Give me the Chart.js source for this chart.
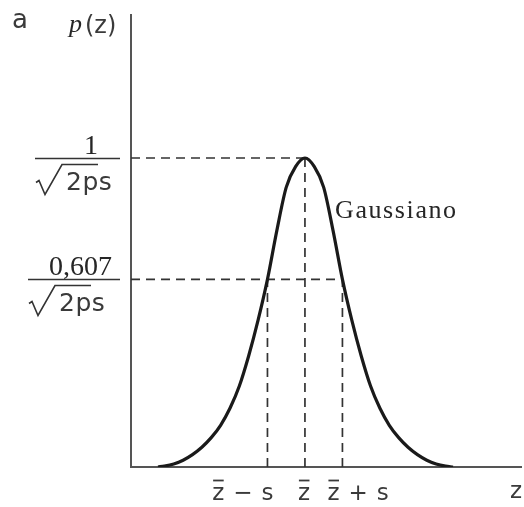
<!DOCTYPE html>
<html>
<head>
<meta charset="utf-8">
<script src="https://cdn.jsdelivr.net/npm/chart.js@4.4.1/dist/chart.umd.min.js"></script>
<style>
  html, body { margin: 0; padding: 0; background: #ffffff; }
  #wrap { width: 524px; height: 507px; position: relative; }
</style>
</head>
<body>
<div id="wrap"><canvas id="chart" width="524" height="507"></canvas></div>
<script>
// Density curve: z in units of s around the mean, p relative to the peak value 1/sqrt(2ps)
const zSigma = [-3.92, -3.75, -3.5, -3.25, -3, -2.75, -2.5, -2.25, -2, -1.75, -1.5, -1.25, -1, -0.75, -0.5, -0.25, 0,
                0.25, 0.5, 0.75, 1, 1.25, 1.5, 1.75, 2, 2.25, 2.5, 2.75, 3, 3.25, 3.5, 3.75, 3.95];
const pRel   = [0, 0.003, 0.010, 0.022, 0.040, 0.064, 0.095, 0.135, 0.19, 0.262, 0.36, 0.475, 0.607, 0.765, 0.905, 0.972, 1,
                0.972, 0.905, 0.765, 0.607, 0.475, 0.36, 0.262, 0.19, 0.135, 0.095, 0.064, 0.040, 0.022, 0.010, 0.003, 0];

// Reference levels on the p axis and marks on the z axis
const peakLevel = 1;
const sigmaLevel = 0.607;
const yTickValues = [peakLevel, sigmaLevel];
const yTickNumerators = ["1", "0,607"];
const yTickDenominator = "2ps";
const xTickValues = [-1, 0, 1];
const xTickLabels = ["z̄ − s", "z̄", "z̄ + s"];
const curveName = "Gaussiano";
const yAxisTitle = "p(z)";
const xAxisTitle = "z";
const panelLetter = "a";

// Axis ranges
const zMin = -4.64, zMax = 5.79;
const pMin = 0, pMax = 1.466;

const curvePoints = zSigma.map((z, i) => ({ x: z, y: pRel[i] }));

const dashStyle = {
  borderColor: '#333333',
  borderWidth: 1.7,
  borderDash: [9, 6],
  pointRadius: 0,
  fill: false,
  tension: 0
};

const guideSets = [
  [{ x: zMin, y: peakLevel }, { x: 0, y: peakLevel }],
  [{ x: zMin, y: sigmaLevel }, { x: 1, y: sigmaLevel }],
  [{ x: -1, y: 0 }, { x: -1, y: sigmaLevel }],
  [{ x: 0, y: 0 }, { x: 0, y: peakLevel }],
  [{ x: 1, y: 0 }, { x: 1, y: sigmaLevel }]
];

const SANS = '"DejaVu Sans", "Open Sans", sans-serif';
const SERIF = '"Liberation Serif", "DejaVu Serif", serif';

function drawSpaced(ctx, text, x, y, spacing) {
  let cx = x;
  for (const ch of text) {
    ctx.fillText(ch, cx, y);
    cx += ctx.measureText(ch).width + spacing;
  }
  return cx - spacing;
}

// Axis lines
const axesPlugin = {
  id: 'axesLines',
  beforeDatasetsDraw(chart) {
    const { ctx, chartArea: a } = chart;
    ctx.save();
    ctx.strokeStyle = '#555555';
    ctx.lineWidth = 2;
    ctx.beginPath();
    ctx.moveTo(a.left, a.top);
    ctx.lineTo(a.left, a.bottom);
    ctx.lineTo(a.right, a.bottom);
    ctx.stroke();
    ctx.restore();
  }
};

// Text annotations: axis titles, fraction tick labels, z tick labels, curve name
const labelPlugin = {
  id: 'labels',
  afterDraw(chart) {
    const { ctx, chartArea: a } = chart;
    const xs = chart.scales.x, ys = chart.scales.y;
    ctx.save();
    ctx.textBaseline = 'alphabetic';
    ctx.textAlign = 'left';

    // panel letter and p axis title
    ctx.fillStyle = '#3a3a3a';
    ctx.font = '26px ' + SANS;
    ctx.fillText(panelLetter, 12, 28);
    ctx.fillStyle = '#262626';
    ctx.font = 'italic 26px ' + SERIF;
    ctx.fillText(yAxisTitle.charAt(0), 69, 32);
    ctx.fillStyle = '#3a3a3a';
    ctx.font = '24px ' + SANS;
    ctx.fillText(yAxisTitle.slice(1), 85, 33);

    // fraction labels on the p axis
    const numX = [84, 49];
    const barL = [35, 28];
    const rootX = [36, 29];
    yTickValues.forEach((v, i) => {
      const py = Math.round(ys.getPixelForValue(v)) + 0.5;
      ctx.fillStyle = '#262626';
      ctx.font = '28px ' + SERIF;
      ctx.fillText(yTickNumerators[i], numX[i], py - 5);
      ctx.strokeStyle = '#333333';
      ctx.lineWidth = 1.7;
      ctx.beginPath();
      ctx.moveTo(barL[i], py);
      ctx.lineTo(a.left - 11, py);
      ctx.stroke();
      // radical sign
      const rx = rootX[i];
      ctx.lineWidth = 1.6;
      ctx.beginPath();
      ctx.moveTo(rx, py + 24);
      ctx.lineTo(rx + 3, py + 22);
      ctx.lineTo(rx + 9, py + 36);
      ctx.lineTo(rx + 26, py + 6);
      ctx.lineTo(rx + 62, py + 6);
      ctx.stroke();
      ctx.fillStyle = '#3a3a3a';
      ctx.font = '25px ' + SANS;
      drawSpaced(ctx, yTickDenominator, rx + 30, py + 31, 0.5);
    });

    // curve name
    ctx.fillStyle = '#262626';
    ctx.font = '26px ' + SERIF;
    drawSpaced(ctx, curveName, 335, 218, 1.6);

    // z tick labels
    ctx.fillStyle = '#3a3a3a';
    ctx.font = '23px ' + SANS;
    const baseY = 500;
    const gap = 9;
    function pieceWidth(p) { return ctx.measureText(p).width; }
    xTickValues.forEach((v, i) => {
      const px = xs.getPixelForValue(v);
      const pieces = xTickLabels[i].split(' ').map(p => p.replace('\u0304', ''));
      const widths = pieces.map(pieceWidth);
      const total = widths.reduce((s, w) => s + w, 0) + gap * (pieces.length - 1);
      let x;
      if (v < 0) x = px + 6 - total;
      else if (v === 0) x = px - widths[0] / 2 - 1;
      else x = px - 15;
      pieces.forEach((p, k) => {
        ctx.fillText(p, x, baseY);
        if (p === 'z') {
          ctx.strokeStyle = '#3a3a3a';
          ctx.lineWidth = 1.8;
          ctx.beginPath();
          ctx.moveTo(x + 1, 480.5);
          ctx.lineTo(x + widths[k] - 0.5, 480.5);
          ctx.stroke();
        }
        x += widths[k] + gap;
      });
    });

    // z axis title
    ctx.fillText(xAxisTitle, 510, 498);
    ctx.restore();
  }
};

new Chart(document.getElementById('chart'), {
  type: 'line',
  data: {
    datasets: [
      {
        label: curveName,
        data: curvePoints,
        borderColor: '#1a1a1a',
        borderWidth: 3.2,
        pointRadius: 0,
        fill: false,
        cubicInterpolationMode: 'monotone'
      },
      ...guideSets.map(pts => Object.assign({ data: pts }, dashStyle))
    ]
  },
  options: {
    responsive: false,
    animation: false,
    devicePixelRatio: 1,
    layout: { padding: { left: 131, top: 14, right: 2, bottom: 40 } },
    plugins: { legend: { display: false }, tooltip: { enabled: false } },
    scales: {
      x: { type: 'linear', min: zMin, max: zMax, display: false },
      y: { type: 'linear', min: pMin, max: pMax, display: false }
    }
  },
  plugins: [axesPlugin, labelPlugin]
});
</script>
</body>
</html>
